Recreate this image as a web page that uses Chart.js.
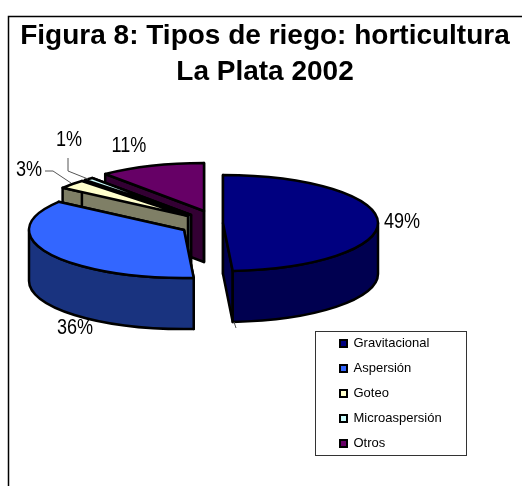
<!DOCTYPE html>
<html>
<head>
<meta charset="utf-8">
<style>html,body{margin:0;padding:0;background:#fff}canvas{display:block}</style>
<script src="https://cdn.jsdelivr.net/npm/chart.js@4"></script>
</head>
<body>
<canvas id="c" width="522" height="486"></canvas>
<script>
// ---- data ----
const categories = ['Gravitacional', 'Aspersión', 'Goteo', 'Microaspersión', 'Otros'];
const values = [49, 36, 3, 1, 11];
const titleLines = ['Figura 8: Tipos de riego: horticultura', 'La Plata 2002'];

// ---- style ----
const topColors = ['#000080', '#3366FF', '#FFFFCC', '#CCFFFF', '#660066'];
const wallColors = ['#000050', '#19337F', '#7F7F66', '#667F7F', '#330033'];
const tilt = 48 / 155;
const depth = 51;
const pieRadius = 155;
const pieAnchor = { x: 200, y: 220 };
const explode = [[23, 3], [-16, 10], [-12, -4], [-9, -5], [4, -9]];
const drawOrder = [4, 3, 2, 1, 0];
const labelAnchors = [[402, 222], [75, 328], [29, 170], [69, 140], [129, 146]];
const leaders = [
  [[45, 171], [53, 171], [71, 183]],
  [[68, 158], [68, 171], [88, 179]],
  [[234, 322], [236, 328]]
];
const family = '"Liberation Sans", Arial, sans-serif';

const pie3d = {
  id: 'pie3d',
  afterLayout(chart) {
    const l = chart.legend, w = l.width, h = l.height;
    l.left = 328; l.top = 325; l.right = l.left + w; l.bottom = l.top + h;
  },
  beforeDraw(chart) {
    const ctx = chart.ctx;
    ctx.save();
    ctx.strokeStyle = '#000';
    ctx.lineWidth = 1.5;
    ctx.beginPath();
    ctx.moveTo(8.5, 486); ctx.lineTo(8.5, 16.5); ctx.lineTo(522, 16.5);
    ctx.stroke();
    ctx.lineWidth = 1;
    ctx.strokeStyle = '#333';
    ctx.strokeRect(315.5, 331.5, 151, 124);
    ctx.restore();
  },
  beforeDatasetsDraw(chart) {
    const ctx = chart.ctx;
    const arcs = chart.getDatasetMeta(0).data;
    for (const i of drawOrder) {
      const el = arcs[i];
      const rx = el.outerRadius, ry = rx * tilt;
      const cx = pieAnchor.x + explode[i][0], cy = pieAnchor.y + explode[i][1];
      const a0 = el.startAngle, a1 = el.endAngle;
      const pt = (a, dy) => [cx + rx * Math.cos(a), cy + ry * Math.sin(a) + dy];
      ctx.save();
      ctx.strokeStyle = '#000';
      ctx.lineWidth = 2.5;
      ctx.lineJoin = 'round';
      ctx.fillStyle = wallColors[i];
      // radial walls
      for (const a of [a0, a1]) {
        const p = pt(a, 0);
        ctx.beginPath();
        ctx.moveTo(cx, cy);
        ctx.lineTo(p[0], p[1]);
        ctx.lineTo(p[0], p[1] + depth);
        ctx.lineTo(cx, cy + depth);
        ctx.closePath();
        ctx.fill();
        ctx.stroke();
      }
      // outer wall (front half only)
      const f0 = Math.max(a0, 0), f1 = Math.min(a1, Math.PI);
      if (f1 > f0) {
        ctx.beginPath();
        ctx.ellipse(cx, cy, rx, ry, 0, f0, f1);
        ctx.ellipse(cx, cy + depth, rx, ry, 0, f1, f0, true);
        ctx.closePath();
        ctx.fill();
        ctx.stroke();
      }
      // top face, drawn by the library's arc element
      ctx.save();
      ctx.translate(cx, cy);
      ctx.scale(1, tilt);
      ctx.translate(-el.x, -el.y);
      el.draw(ctx);
      ctx.restore();
      ctx.beginPath();
      ctx.moveTo(cx, cy);
      ctx.ellipse(cx, cy, rx, ry, 0, a0, a1);
      ctx.closePath();
      ctx.stroke();
      ctx.restore();
    }
    return false;
  },
  afterDraw(chart) {
    const ctx = chart.ctx;
    ctx.save();
    ctx.strokeStyle = '#555';
    ctx.lineWidth = 1;
    for (const line of leaders) {
      ctx.beginPath();
      line.forEach((p, k) => k ? ctx.lineTo(p[0], p[1]) : ctx.moveTo(p[0], p[1]));
      ctx.stroke();
    }
    const total = values.reduce((a, b) => a + b, 0);
    ctx.fillStyle = '#000';
    ctx.font = '22px ' + family;
    ctx.textAlign = 'center';
    ctx.textBaseline = 'middle';
    values.forEach((v, i) => {
      ctx.save();
      ctx.translate(labelAnchors[i][0], labelAnchors[i][1]);
      ctx.scale(0.82, 1);
      ctx.fillText(Math.round(v / total * 100) + '%', 0, 0);
      ctx.restore();
    });
    ctx.restore();
  }
};

new Chart(document.getElementById('c'), {
  type: 'doughnut',
  data: {
    labels: categories,
    datasets: [{
      data: values,
      backgroundColor: topColors,
      borderWidth: 0,
      radius: pieRadius,
      cutout: 0
    }]
  },
  plugins: [pie3d],
  options: {
    responsive: false,
    animation: false,
    events: [],
    layout: { padding: { left: 8, top: 18 } },
    plugins: {
      tooltip: { enabled: false },
      title: {
        display: true,
        text: titleLines,
        color: '#000',
        font: { family: family, size: 28, weight: 'bold', lineHeight: 1.3 },
        padding: { top: 0, bottom: 4 }
      },
      legend: {
        display: true,
        position: 'right',
        align: 'start',
        labels: {
          boxWidth: 7,
          boxHeight: 7,
          padding: 12,
          color: '#000',
          font: { family: family, size: 13 },
          generateLabels(chart) {
            return Chart.overrides.doughnut.plugins.legend.labels.generateLabels(chart)
              .map(it => Object.assign(it, { strokeStyle: '#000', lineWidth: 2 }));
          }
        }
      }
    }
  }
});
</script>
</body>
</html>
